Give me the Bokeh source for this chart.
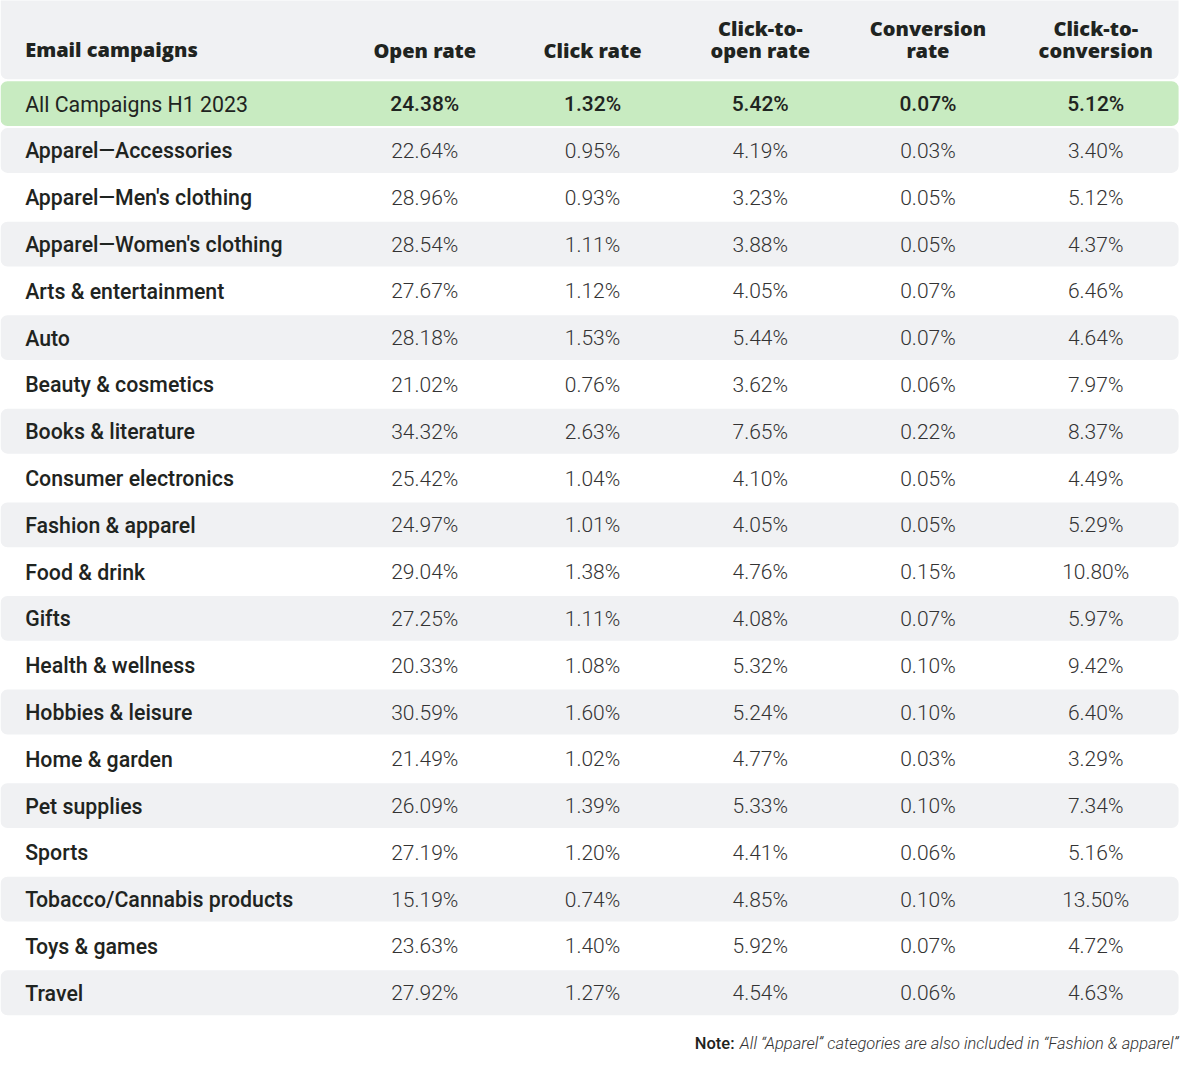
from bokeh.plotting import figure
from bokeh.models import Range1d
from bokeh.core.properties import value
from bokeh.embed import file_html
from bokeh.resources import INLINE

# ---- data ----
headers = ["Open rate", "Click rate", "Click-to-\nopen rate", "Conversion\nrate", "Click-to-\nconversion"]
first_header = "Email campaigns"
categories = [
    "All Campaigns H1 2023", "Apparel\u2014Accessories", "Apparel\u2014Men's clothing",
    "Apparel\u2014Women's clothing", "Arts & entertainment", "Auto", "Beauty & cosmetics",
    "Books & literature", "Consumer electronics", "Fashion & apparel", "Food & drink",
    "Gifts", "Health & wellness", "Hobbies & leisure", "Home & garden", "Pet supplies",
    "Sports", "Tobacco/Cannabis products", "Toys & games", "Travel",
]
open_rate = [24.38, 22.64, 28.96, 28.54, 27.67, 28.18, 21.02, 34.32, 25.42, 24.97, 29.04,
             27.25, 20.33, 30.59, 21.49, 26.09, 27.19, 15.19, 23.63, 27.92]
click_rate = [1.32, 0.95, 0.93, 1.11, 1.12, 1.53, 0.76, 2.63, 1.04, 1.01, 1.38,
              1.11, 1.08, 1.60, 1.02, 1.39, 1.20, 0.74, 1.40, 1.27]
click_to_open = [5.42, 4.19, 3.23, 3.88, 4.05, 5.44, 3.62, 7.65, 4.10, 4.05, 4.76,
                 4.08, 5.32, 5.24, 4.77, 5.33, 4.41, 4.85, 5.92, 4.54]
conversion_rate = [0.07, 0.03, 0.05, 0.05, 0.07, 0.07, 0.06, 0.22, 0.05, 0.05, 0.15,
                   0.07, 0.10, 0.10, 0.03, 0.10, 0.06, 0.10, 0.07, 0.06]
click_to_conversion = [5.12, 3.40, 5.12, 4.37, 6.46, 4.64, 7.97, 8.37, 4.49, 5.29, 10.80,
                       5.97, 9.42, 6.40, 3.29, 7.34, 5.16, 13.50, 4.72, 4.63]
note_label = "Note:"
note_text = "All \u201cApparel\u201d categories are also included in \u201cFashion & apparel\u201d"

series = [open_rate, click_rate, click_to_open, conversion_rate, click_to_conversion]

# ---- layout (reference pixel units) ----
W, H = 1200, 1077
LEFT, RIGHT = 0, 1194
ROW0_TOP, PITCH, BAND_H = 82, 47.5, 45.5
COL_X = [430, 600, 770, 940, 1110]
LABEL_X = 25

GREY = "#f0f1f3"
GREEN = "#c8ebc1"
TEXT = "#1f2421"
HEAD_FONT = value("Open Sans ExtraBold")

p = figure(width=1184, height=1061, x_range=Range1d(0, W), y_range=Range1d(H, 0),
           output_backend="svg", toolbar_location=None, min_border=0)
p.axis.visible = False
p.grid.visible = False
p.outline_line_color = None
p.background_fill_color = "white"
p.border_fill_color = "white"

# header band
p.quad(left=[LEFT], right=[RIGHT], top=[-20], bottom=[80], fill_color=GREY,
       line_color=None, border_radius=7)

# row bands
n = len(categories)
tops = [ROW0_TOP + i * PITCH for i in range(n)]
band_idx = [i for i in range(n) if i % 2 == 1 or i == 0]
colors = [GREEN if i == 0 else GREY for i in band_idx]
p.quad(left=[LEFT] * len(band_idx), right=[RIGHT] * len(band_idx),
       top=[tops[i] for i in band_idx], bottom=[tops[i] + BAND_H for i in band_idx],
       fill_color=colors, line_color=None, border_radius=7)

centers = [t + BAND_H / 2 + 0.5 for t in tops]

# header texts
p.text(x=[LABEL_X], y=[50], text=[first_header], text_font=HEAD_FONT,
       text_font_size="20px", text_color=TEXT,
       text_align="left", text_baseline="middle")
p.text(x=COL_X, y=[51, 51, 40, 40, 40], text=headers, text_font=HEAD_FONT,
       text_font_size="20px", text_color=TEXT,
       text_align="center", text_baseline="middle", text_line_height=0.82)

# category labels
p.text(x=[LABEL_X], y=[centers[0]], text=[categories[0]], text_font=value("Roboto"),
       text_font_size="21.3px", text_color=TEXT, text_align="left", text_baseline="middle")
p.text(x=[LABEL_X] * (n - 1), y=centers[1:], text=categories[1:], text_font=value("Roboto Medium"),
       text_font_size="21.3px", text_color=TEXT, text_align="left", text_baseline="middle")

# values
for cx, vals in zip(COL_X, series):
    labels = ["%.2f%%" % v for v in vals]
    p.text(x=[cx], y=[centers[0]], text=[labels[0]], text_font=value("Roboto Medium"),
           text_font_size="21px", text_color=TEXT, text_align="center", text_baseline="middle")
    p.text(x=[cx] * (n - 1), y=centers[1:], text=labels[1:], text_font=value("Roboto Light"),
           text_font_size="21px", text_color="#333333", text_align="center", text_baseline="middle")

# note
p.text(x=[RIGHT], y=[1059], text=[note_text], text_font=value("Roboto Light"),
       text_font_style="italic", text_font_size="16.5px", text_color="#333333",
       text_align="right", text_baseline="middle")
p.text(x=[744], y=[1059], text=[note_label], text_font=value("Roboto Medium"),
       text_font_size="16.5px", text_color=TEXT, text_align="right", text_baseline="middle")

open("out.html", "w").write(file_html(p, INLINE))
